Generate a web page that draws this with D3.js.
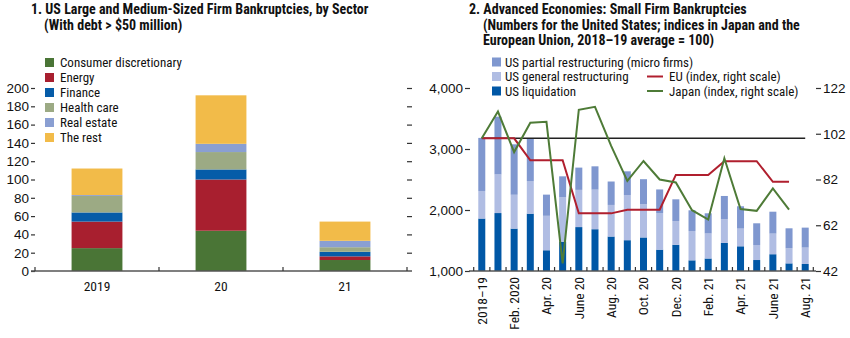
<!DOCTYPE html>
<html><head><meta charset="utf-8">
<script src="https://cdn.jsdelivr.net/npm/d3@7"></script>
<style>
body{margin:0;background:#fff;}
svg{display:block;font-family:"Liberation Sans Narrow","Arial Narrow","Roboto Condensed","Liberation Sans",sans-serif;}
</style></head>
<body><svg id="c" width="850" height="338"></svg>
<script>
// ---------- Panel 1 data ----------
const years = ["2019", "20", "21"];
const sectors = ["Consumer discretionary", "Energy", "Finance", "Health care", "Real estate", "The rest"];
const sectorColors = ["#4a7536", "#a81f2f", "#065ca8", "#9caa84", "#8a9fd2", "#f2bb49"];
const consumerDisc = [25, 44, 12];
const energy = [29, 56, 4];
const finance = [10, 11, 5];
const healthCare = [18, 19, 5];
const realEstate = [1, 9, 7];
const theRest = [29, 53, 21];
const leftTicks = [0, 20, 40, 60, 80, 100, 120, 140, 160, 180, 200];

// ---------- Panel 2 data ----------
const months = ["2018–19","Jan. 2020","Feb. 2020","Mar. 20","Apr. 20","May 20","June 20","July 20","Aug. 20","Sep. 20","Oct. 20","Nov. 20","Dec. 20","Jan. 21","Feb. 21","Mar. 21","Apr. 21","May 21","June 21","July 21","Aug. 21"];
const monthLabels = ["2018–19","","Feb. 2020","","Apr. 20","","June 20","","Aug. 20","","Oct. 20","","Dec. 20","","Feb. 21","","Apr. 21","","June 21","","Aug. 21"];
const usLiquidation = [1860,1950,1695,1940,1340,1480,1720,1685,1565,1505,1550,1350,1430,1175,1205,1460,1405,1180,1275,1125,1115];
const usGeneral = [452,633,555,535,565,728,610,649,518,741,543,600,388,481,410,387,290,246,338,247,269];
const usPartial = [870,947,827,700,347,344,365,382,384,388,412,387,357,339,331,383,366,356,359,328,327];
const euIndex = [100,100,100,90.4,90.4,90.4,67.2,67.2,67.2,68.8,68.8,68.8,84,84,84,90,90,90,81,81,null];
const japanIndex = [100,111.7,94,106.8,107.2,45.3,112.5,113.8,96.7,81.4,90.1,82,80.7,68.6,64.5,91.3,69.1,68.3,78.1,68.8,null];
const leftTicks2 = [1000, 2000, 3000, 4000];
const rightTicks2 = [42, 62, 82, 102, 122];
const reference = 100;

const svg = d3.select("#c");
const fs = 13;
const tfs = 14;

// ================= PANEL 1 =================
const g1 = svg.append("g");
g1.append("text").attr("x", 31).attr("y", 14).attr("font-weight", "bold").attr("font-size", tfs).attr("fill", "#111")
  .text("1. US Large and Medium-Sized Firm Bankruptcies, by Sector");
g1.append("text").attr("x", 44).attr("y", 30).attr("font-weight", "bold").attr("font-size", tfs).attr("fill", "#111")
  .text("(With debt > $50 million)");

const x1 = d3.scaleBand().domain(years).range([35, 407]).paddingInner(0.59).paddingOuter(0.295);
const y1 = d3.scaleLinear().domain([0, 200]).range([271, 88]);

const rows1 = years.map((yr, i) => ({year: yr, "Consumer discretionary": consumerDisc[i], "Energy": energy[i], "Finance": finance[i], "Health care": healthCare[i], "Real estate": realEstate[i], "The rest": theRest[i]}));
const stack1 = d3.stack().keys(sectors)(rows1);
g1.selectAll("g.s").data(stack1).join("g").attr("fill", (d, i) => sectorColors[i])
  .selectAll("rect").data(d => d).join("rect")
  .attr("x", d => x1(d.data.year)).attr("width", x1.bandwidth())
  .attr("y", d => y1(d[1])).attr("height", d => y1(d[0]) - y1(d[1]));

// left axis
const axL1 = g1.append("g").attr("transform", "translate(35,0)")
  .call(d3.axisLeft(y1).tickValues(leftTicks).tickSize(4).tickPadding(2));
axL1.select(".domain").remove();
axL1.selectAll("line").attr("stroke", "#333").attr("stroke-width", 1.2);
axL1.selectAll("text").attr("font-size", 13.5).attr("font-family", null).attr("fill", "#111");
// right axis (ticks only)
const axR1 = g1.append("g").attr("transform", "translate(407,0)")
  .call(d3.axisRight(y1).tickValues(leftTicks.slice(1)).tickSize(5).tickFormat(""));
axR1.select(".domain").remove();
axR1.selectAll("line").attr("stroke", "#333").attr("stroke-width", 1.2);
// baseline
g1.append("line").attr("x1", 31).attr("x2", 412).attr("y1", y1(0)).attr("y2", y1(0)).attr("stroke", "#555").attr("stroke-width", 1.3);
// category boundary ticks
const bounds1 = d3.range(years.length + 1).map(i => 35 + i * x1.step());
g1.selectAll("line.bt").data(bounds1).join("line").attr("class", "bt")
  .attr("x1", d => d).attr("x2", d => d).attr("y1", y1(0)).attr("y2", y1(0) - 4).attr("stroke", "#333").attr("stroke-width", 1.2);
g1.selectAll("text.xl").data(years).join("text").attr("class", "xl")
  .attr("x", d => x1(d) + x1.bandwidth() / 2).attr("y", 291).attr("text-anchor", "middle")
  .attr("font-size", 13.5).attr("fill", "#111").text(d => d);
// legend
const lg1 = g1.selectAll("g.lg").data(sectors).join("g").attr("class", "lg")
  .attr("transform", (d, i) => `translate(45,${62.5 + i * 15})`);
lg1.append("rect").attr("x", 0).attr("y", -4.5).attr("width", 9).attr("height", 9).attr("fill", (d, i) => sectorColors[i]);
lg1.append("text").attr("x", 15).attr("y", 0).attr("dy", "0.35em").attr("font-size", fs).attr("fill", "#111").text(d => d);

// ================= PANEL 2 =================
const g2 = svg.append("g");
[["2. Advanced Economies: Small Firm Bankruptcies", 469, 14],
 ["(Numbers for the United States; indices in Japan and the", 483, 29.5],
 ["European Union, 2018–19 average = 100)", 483, 45]].forEach(t => {
  g2.append("text").attr("x", t[1]).attr("y", t[2]).attr("font-weight", "bold").attr("font-size", tfs).attr("fill", "#111").text(t[0]);
});

const x2 = d3.scaleBand().domain(months).range([473.7, 813.3]).paddingInner(0.567).paddingOuter(0.2835);
const yL2 = d3.scaleLinear().domain([1000, 4000]).range([271, 88]);
const yR2 = d3.scaleLinear().domain([42, 122]).range([271, 88]);
const cx = d => x2(d) + x2.bandwidth() / 2;

const usKeys = ["liq", "gen", "par"];
const usColors = ["#0057a6", "#b0bde3", "#7f97cf"];
const rows2 = months.map((m, i) => ({m, liq: usLiquidation[i], gen: usGeneral[i], par: usPartial[i]}));
const stack2 = d3.stack().keys(usKeys)(rows2);
// counts are absolute; bars are drawn from the axis floor (1,000)
g2.selectAll("g.s2").data(stack2).join("g").attr("fill", (d, i) => usColors[i])
  .selectAll("rect").data(d => d).join("rect")
  .attr("x", d => x2(d.data.m)).attr("width", x2.bandwidth())
  .attr("y", d => yL2(d[1])).attr("height", d => yL2(Math.max(d[0], 1000)) - yL2(d[1]));

// reference line at 100
g2.append("line").attr("x1", cx(months[0])).attr("x2", cx(months[months.length - 1]))
  .attr("y1", yR2(reference)).attr("y2", yR2(reference)).attr("stroke", "#222").attr("stroke-width", 1.5);

const line2 = d3.line().defined(d => d.v != null).x(d => cx(d.m)).y(d => yR2(d.v));
g2.append("path").datum(months.map((m, i) => ({m, v: euIndex[i]})))
  .attr("d", line2).attr("fill", "none").attr("stroke", "#b01f2e").attr("stroke-width", 2);
g2.append("path").datum(months.map((m, i) => ({m, v: japanIndex[i]})))
  .attr("d", line2).attr("fill", "none").attr("stroke", "#4e7b37").attr("stroke-width", 2);

// axes
const axL2 = g2.append("g").attr("transform", "translate(470,0)")
  .call(d3.axisLeft(yL2).tickValues(leftTicks2).tickSize(5).tickPadding(2).tickFormat(d3.format(",")));
axL2.select(".domain").remove();
axL2.selectAll("line").attr("stroke", "#333").attr("stroke-width", 1.2);
axL2.selectAll("text").attr("font-size", 13.5).attr("font-family", null).attr("fill", "#111");
const axR2 = g2.append("g").attr("transform", "translate(816,0)")
  .call(d3.axisRight(yR2).tickValues(rightTicks2).tickSize(5).tickPadding(2));
axR2.select(".domain").remove();
axR2.selectAll("line").attr("stroke", "#333").attr("stroke-width", 1.2);
axR2.selectAll("text").attr("font-size", 13.5).attr("font-family", null).attr("fill", "#111");

g2.append("line").attr("x1", 469).attr("x2", 816).attr("y1", 271).attr("y2", 271).attr("stroke", "#555").attr("stroke-width", 1.3);
const bounds2 = d3.range(months.length + 1).map(i => 473.7 + i * x2.step());
g2.selectAll("line.bt2").data(bounds2).join("line").attr("class", "bt2")
  .attr("x1", d => d).attr("x2", d => d).attr("y1", 271).attr("y2", 267).attr("stroke", "#333").attr("stroke-width", 1.2);

g2.selectAll("text.xl2").data(months.filter((m, i) => monthLabels[i] !== "")).join("text").attr("class", "xl2")
  .attr("transform", d => `translate(${cx(d)},277) rotate(-90)`)
  .attr("text-anchor", "end").attr("dy", "0.35em").attr("font-size", 13.5).attr("fill", "#111")
  .text(d => monthLabels[months.indexOf(d)]);

// legend
const leg2 = [["US partial restructuring (micro firms)", usColors[2]], ["US general restructuring", usColors[1]], ["US liquidation", usColors[0]]];
leg2.forEach((d, i) => {
  const y = 62 + i * 14.5;
  g2.append("rect").attr("x", 492).attr("y", y - 4.5).attr("width", 9).attr("height", 9).attr("fill", d[1]);
  g2.append("text").attr("x", 505).attr("y", y).attr("dy", "0.35em").attr("font-size", fs).attr("fill", "#111").text(d[0]);
});
[["EU (index, right scale)", "#b01f2e"], ["Japan (index, right scale)", "#4e7b37"]].forEach((d, i) => {
  const y = 76.5 + i * 14.5;
  g2.append("line").attr("x1", 647).attr("x2", 663).attr("y1", y).attr("y2", y).attr("stroke", d[1]).attr("stroke-width", 2);
  g2.append("text").attr("x", 669).attr("y", y).attr("dy", "0.35em").attr("font-size", fs).attr("fill", "#111").text(d[0]);
});
</script></body></html>
